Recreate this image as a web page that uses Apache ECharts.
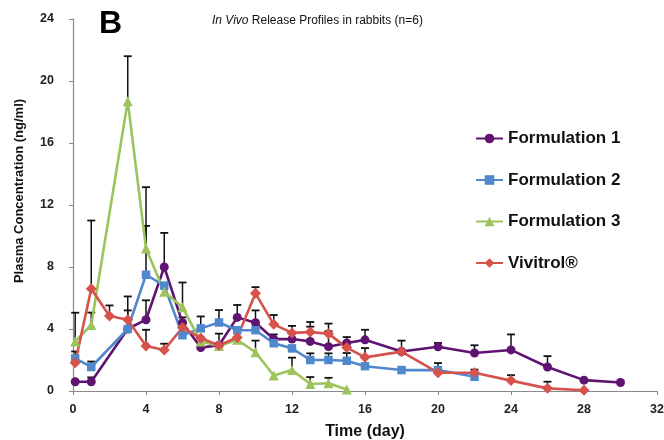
<!DOCTYPE html>
<html>
<head>
<meta charset="utf-8">
<script src="https://cdn.jsdelivr.net/npm/echarts@6/dist/echarts.min.js"></script>
<style>
  html, body { margin: 0; padding: 0; background: #fff; }
  #chart { width: 664px; height: 440px; }
</style>
</head>
<body>
<div id="chart"></div>
<script>
// Sampling times (day) and mean plasma concentrations (ng/ml) with upper SD
const days1 = [0.12, 1, 3, 4, 5, 6, 7, 8, 9, 10, 11, 12, 13, 14, 15, 16, 18, 20, 22, 24, 26, 28, 30];
const form1 = [0.6, 0.6, 4.0, 4.6, 8.0, 4.4, 2.8, 2.95, 4.75, 4.4, 3.35, 3.35, 3.2, 2.86, 3.1, 3.3, 2.55, 2.85, 2.45, 2.65, 1.55, 0.7, 0.55];
const form1Err = [0, 0.28, 0, 1.25, 2.2, 0.35, 0, 0.75, 0.8, 0.8, 0.3, 0.4, 0.95, 1.0, 0.38, 0.65, 0.7, 0.25, 0.5, 1.0, 0.7, 0, 0];

const days2 = [0.12, 1, 3, 4, 5, 6, 7, 8, 9, 10, 11, 12, 13, 14, 15, 16, 18, 20, 22];
const form2 = [2.1, 1.55, 4.0, 7.5, 6.8, 3.6, 4.04, 4.42, 3.92, 3.92, 3.08, 2.75, 2.0, 2.0, 1.95, 1.6, 1.35, 1.35, 0.92];
const form2Err = [0.45, 0.35, 1.2, 3.15, 0, 0, 0.77, 0.8, 0, 0, 0, 0, 0.43, 0.43, 0.5, 0, 0, 0.45, 0];

const days3 = [0.12, 1, 3, 4, 5, 6, 7, 8, 9, 10, 11, 12, 13, 14, 15];
const form3 = [3.2, 4.26, 18.7, 9.2, 6.4, 5.4, 3.2, 2.9, 3.3, 2.5, 1.0, 1.35, 0.45, 0.5, 0.1];
const form3Err = [1.85, 0.8, 2.9, 3.95, 0, 1.6, 0, 0, 0, 0.75, 0, 0.8, 0.45, 0.35, 0];

const daysViv = [0.12, 1, 2, 3, 4, 5, 6, 7, 8, 9, 10, 11, 12, 13, 14, 15, 16, 18, 20, 22, 24, 26, 28];
const vivitrol = [1.83, 6.6, 4.84, 4.6, 2.9, 2.65, 4.1, 3.4, 2.95, 3.45, 6.3, 4.3, 3.75, 3.8, 3.7, 2.8, 2.17, 2.54, 1.18, 1.18, 0.67, 0.17, 0.05];
const vivitrolErr = [0, 4.4, 0.68, 1.5, 1.05, 0.4, 0, 0, 0, 0, 0.4, 0.6, 0.45, 0.65, 0.65, 0, 0.6, 0, 0, 0.2, 0.35, 0.43, 0];

const seriesNames = ['Formulation 1', 'Formulation 2', 'Formulation 3', 'Vivitrol®'];
const xTicks = [0, 4, 8, 12, 16, 20, 24, 28, 32];
const yTicks = [0, 4, 8, 12, 16, 20, 24];

const FONT = '"Liberation Sans", Arial, Helvetica, sans-serif';

const groups = [
  { name: seriesNames[0], x: days1, y: form1, err: form1Err, color: '#5E1470', symbol: 'circle', size: 9 },
  { name: seriesNames[1], x: days2, y: form2, err: form2Err, color: '#4F88CC', symbol: 'rect', size: 8.5 },
  { name: seriesNames[2], x: days3, y: form3, err: form3Err, color: '#9DC35C', symbol: 'triangle', size: 10 },
  { name: seriesNames[3], x: daysViv, y: vivitrol, err: vivitrolErr, color: '#D6524B', symbol: 'diamond', size: 11 }
];

function errorBarItem(params, api) {
  const x = api.value(0), y = api.value(1), e = api.value(2);
  if (!(e > 0)) return null;
  const p0 = api.coord([x, y]);
  const p1 = api.coord([x, y + e]);
  const half = 4;
  return {
    type: 'group',
    children: [
      { type: 'line', shape: { x1: p0[0], y1: p0[1], x2: p1[0], y2: p1[1] },
        style: { stroke: '#111', lineWidth: 1.5 } },
      { type: 'line', shape: { x1: p1[0] - half, y1: p1[1], x2: p1[0] + half, y2: p1[1] },
        style: { stroke: '#111', lineWidth: 1.8 } }
    ]
  };
}

const series = [];
groups.forEach(g => {
  series.push({
    type: 'custom',
    name: g.name + ' SD',
    renderItem: errorBarItem,
    data: g.x.map((d, i) => [d, g.y[i], g.err[i]]),
    z: 1,
    silent: true,
    tooltip: { show: false }
  });
});
groups.forEach(g => {
  series.push({
    type: 'line',
    name: g.name,
    data: g.x.map((d, i) => [d, g.y[i]]),
    symbol: g.symbol,
    symbolSize: g.size,
    showAllSymbol: true,
    lineStyle: { color: g.color, width: 2.6 },
    itemStyle: { color: g.color },
    z: 3
  });
});

const chart = echarts.init(document.getElementById('chart'), null, { renderer: 'canvas' });
chart.setOption({
  animation: false,
  backgroundColor: '#ffffff',
  grid: { left: 73, right: 7, top: 19, bottom: 49, containLabel: false, outerBoundsMode: 'none' },
  title: {
    text: '{i|In Vivo} Release Profiles in rabbits (n=6)',
    left: 207, top: 10,
    textStyle: {
      fontFamily: FONT, fontSize: 12, fontWeight: 'normal', color: '#111',
      rich: { i: { fontFamily: FONT, fontSize: 12, fontStyle: 'italic', color: '#111' } }
    }
  },
  legend: {
    data: seriesNames,
    orient: 'vertical',
    left: 470, top: 125,
    itemWidth: 27, itemHeight: 12, itemGap: 24.5,
    textStyle: { fontFamily: FONT, fontSize: 17, fontWeight: 'bold', color: '#111', lineHeight: 17 }
  },
  xAxis: {
    type: 'value', min: 0, max: 32, interval: 4,
    name: 'Time (day)', nameLocation: 'middle', nameGap: 33,
    nameTextStyle: { fontFamily: FONT, fontSize: 16, fontWeight: 'bold', color: '#111' },
    axisLine: { lineStyle: { color: '#8a8a8a', width: 1.2 } },
    axisTick: { show: true, length: 4, lineStyle: { color: '#8a8a8a' } },
    axisLabel: {
      fontFamily: FONT, fontSize: 12.5, fontWeight: 'bold', color: '#222', margin: 12,
      formatter: v => (xTicks.indexOf(v) >= 0 ? String(v) : '')
    },
    splitLine: { show: false }
  },
  yAxis: {
    type: 'value', min: 0, max: 24, interval: 4,
    axisLine: { show: true, lineStyle: { color: '#8a8a8a', width: 1.2 } },
    axisTick: { show: true, length: 4, lineStyle: { color: '#8a8a8a' } },
    axisLabel: {
      fontFamily: FONT, fontSize: 12.5, fontWeight: 'bold', color: '#222', margin: 19,
      formatter: v => (yTicks.indexOf(v) >= 0 ? String(v) : '')
    },
    splitLine: { show: false }
  },
  graphic: [
    {
      type: 'text', left: 99, top: 8, z: 10,
      style: { text: 'B', fontFamily: '"Liberation Sans Narrow", ' + FONT, fontSize: 32, fontWeight: 'bold', fill: '#000' }
    },
    {
      type: 'text', x: 19, y: 191, rotation: Math.PI / 2, z: 10,
      style: {
        text: 'Plasma Concentration (ng/ml)', fontFamily: FONT, fontSize: 13, fontWeight: 'bold',
        fill: '#111', textAlign: 'center', textVerticalAlign: 'middle'
      }
    }
  ],
  series: series
});
</script>
</body>
</html>
